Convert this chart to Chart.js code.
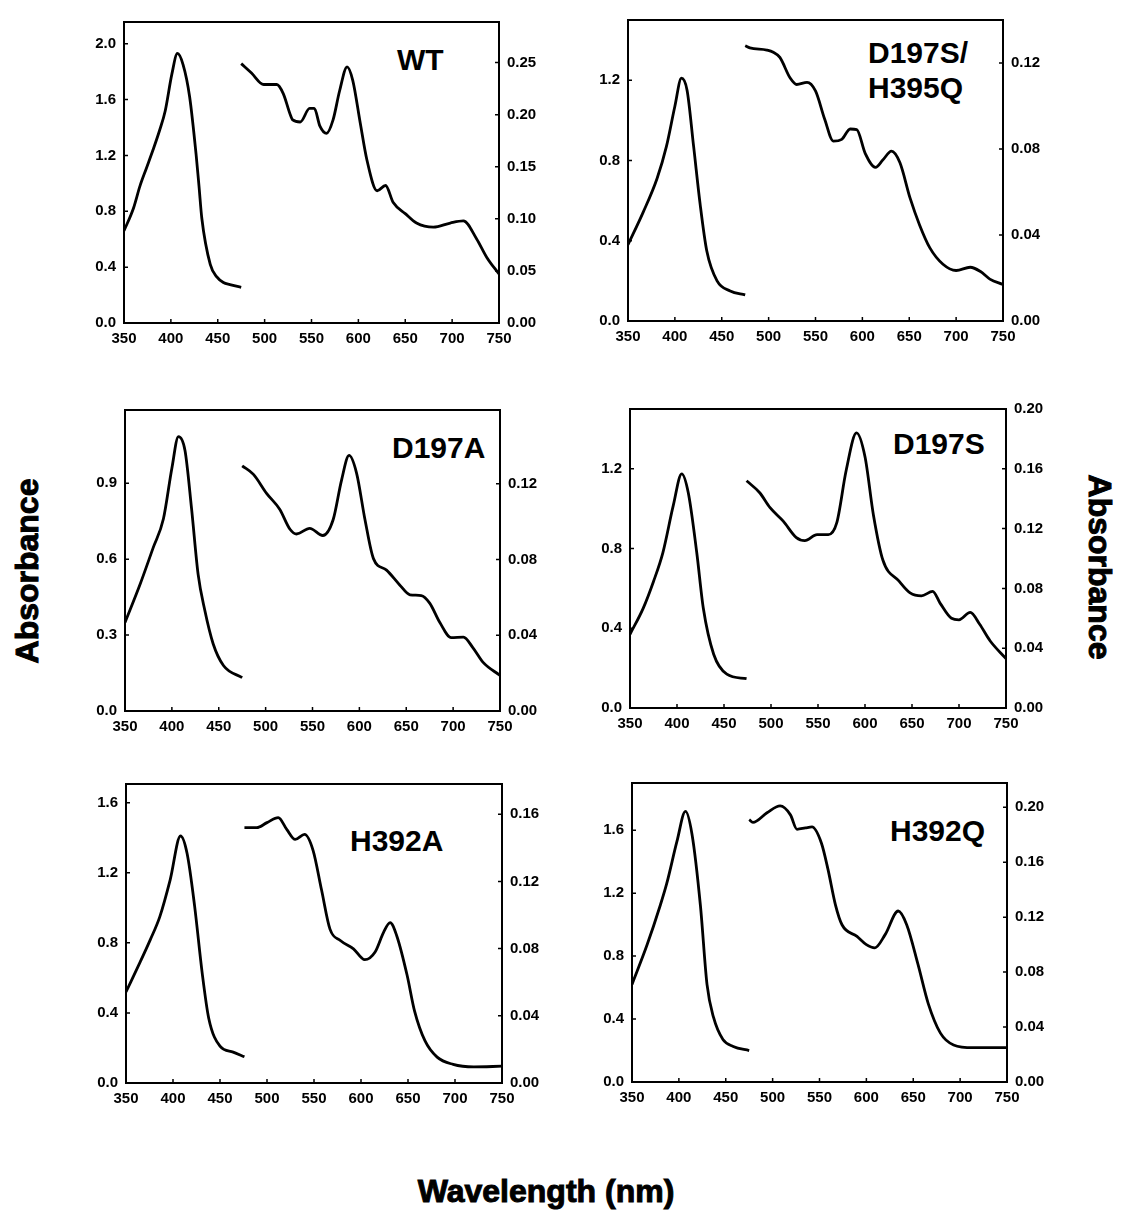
<!DOCTYPE html>
<html>
<head>
<meta charset="utf-8">
<script src="https://cdn.jsdelivr.net/npm/chart.js@4.4.1/dist/chart.umd.min.js"></script>
<style>
  body { margin: 0; background: #fff; }
  #page { position: relative; width: 1125px; height: 1223px; background: #fff; overflow: hidden; }
  canvas { position: absolute; }
  .lbl { position: absolute; font-family: "Liberation Sans", Arial, sans-serif; font-weight: bold;
         font-size: 30px; line-height: 1; color: #000; white-space: nowrap; }
  .title { position: absolute; font-family: "Liberation Sans", Arial, sans-serif; font-weight: bold;
           font-size: 32px; line-height: 1; color: #000; white-space: nowrap; -webkit-text-stroke: 1px #000; }
</style>
</head>
<body>
<div id="page">
  <div class="lbl" style="left:397px; top:45px;">WT</div>
  <div class="lbl" style="left:868px; top:38px;">D197S/</div>
  <div class="lbl" style="left:868px; top:73px;">H395Q</div>
  <div class="lbl" style="left:392px; top:433px;">D197A</div>
  <div class="lbl" style="left:893px; top:429px;">D197S</div>
  <div class="lbl" style="left:350px; top:826px;">H392A</div>
  <div class="lbl" style="left:890px; top:816px;">H392Q</div>
  <div class="title" style="left:27px; top:571px; transform: translate(-50%,-50%) rotate(-90deg);">Absorbance</div>
  <div class="title" style="left:1100px; top:567px; transform: translate(-50%,-50%) rotate(90deg);">Absorbance</div>
  <div class="title" style="left:546px; top:1191px; transform: translate(-50%,-50%);">Wavelength (nm)</div>
</div>
<script>
// Soret region (left axis) and visible region (right axis) for each mutant
var wtSoretNm  = [350, 360, 367, 374, 381, 388, 394, 401, 407, 413, 420, 427, 430, 433, 442, 449, 456, 463, 475];
var wtSoretAbs = [0.66, 0.82, 0.98, 1.11, 1.24, 1.38, 1.52, 1.78, 1.93, 1.85, 1.62, 1.20, 0.98, 0.75, 0.42, 0.33, 0.29, 0.275, 0.255];
var wtVisNm    = [475, 486, 499, 513, 520, 527, 530, 538, 548, 553, 559, 566, 573, 580, 588, 594, 602, 609, 620, 629, 637, 650, 662, 680, 698, 712, 726, 737, 750];
var wtVisAbs   = [0.249, 0.240, 0.229, 0.229, 0.220, 0.201, 0.195, 0.193, 0.206, 0.206, 0.189, 0.182, 0.195, 0.223, 0.246, 0.233, 0.192, 0.157, 0.127, 0.132, 0.116, 0.105, 0.096, 0.092, 0.096, 0.098, 0.081, 0.063, 0.047];

var dqSoretNm  = [350, 366, 381, 391, 400, 407, 413, 420, 427, 434, 445, 459, 475];
var dqSoretAbs = [0.38, 0.54, 0.71, 0.87, 1.07, 1.21, 1.15, 0.87, 0.58, 0.35, 0.20, 0.15, 0.13];
var dqVisNm    = [475, 480, 498, 505, 512, 523, 530, 541, 550, 560, 569, 578, 587, 594, 603, 614, 622, 631, 640, 651, 661, 672, 686, 700, 715, 726, 736, 750];
var dqVisAbs   = [0.128, 0.127, 0.126, 0.125, 0.1226, 0.113, 0.110, 0.111, 0.107, 0.0936, 0.0837, 0.0845, 0.0893, 0.089, 0.078, 0.0715, 0.075, 0.079, 0.0737, 0.057, 0.0447, 0.034, 0.0264, 0.0235, 0.025, 0.023, 0.0195, 0.017];

var daSoretNm  = [350, 366, 380, 391, 400, 407, 414, 421, 428, 435, 444, 455, 475];
var daSoretAbs = [0.35, 0.50, 0.645, 0.76, 0.96, 1.085, 1.03, 0.80, 0.54, 0.40, 0.266, 0.18, 0.132];
var daVisNm    = [475, 487, 501, 515, 526, 533, 547, 561, 572, 581, 589, 597, 606, 615, 629, 643, 654, 666, 675, 686, 698, 711, 721, 732, 750];
var daVisAbs   = [0.1295, 0.125, 0.115, 0.1066, 0.096, 0.0935, 0.0965, 0.0927, 0.101, 0.122, 0.135, 0.1257, 0.101, 0.0805, 0.0744, 0.0666, 0.0614, 0.061, 0.057, 0.0466, 0.0388, 0.039, 0.0335, 0.0257, 0.0188];

var dsSoretNm  = [350, 364, 375, 385, 396, 405, 412, 421, 428, 439, 453, 474];
var dsSoretAbs = [0.37, 0.50, 0.635, 0.78, 1.015, 1.175, 1.08, 0.78, 0.50, 0.27, 0.17, 0.147];
var dsVisNm    = [474, 488, 499, 513, 527, 536, 549, 561, 570, 580, 591, 600, 609, 619, 636, 648, 660, 672, 680, 692, 700, 712, 722, 733, 750];
var dsVisAbs   = [0.152, 0.144, 0.134, 0.125, 0.114, 0.112, 0.116, 0.116, 0.124, 0.159, 0.184, 0.168, 0.129, 0.099, 0.085, 0.077, 0.075, 0.078, 0.070, 0.060, 0.059, 0.064, 0.056, 0.045, 0.033];

var haSoretNm  = [350, 365, 376, 386, 397, 408, 415, 423, 431, 438, 450, 464, 476];
var haSoretAbs = [0.52, 0.69, 0.82, 0.95, 1.16, 1.41, 1.31, 1.01, 0.63, 0.37, 0.21, 0.176, 0.15];
var haVisNm    = [476, 489, 500, 512, 521, 530, 540, 549, 558, 567, 578, 592, 604, 615, 624, 631, 638, 649, 657, 668, 681, 698, 720, 750];
var haVisAbs   = [0.152, 0.152, 0.155, 0.158, 0.151, 0.145, 0.148, 0.1385, 0.115, 0.0916, 0.0848, 0.0799, 0.0734, 0.078, 0.0897, 0.0955, 0.0877, 0.0643, 0.0428, 0.0252, 0.0154, 0.0111, 0.0096, 0.010];

var hqSoretNm  = [350, 366, 380, 387, 398, 407, 414, 423, 430, 437, 447, 458, 475];
var hqSoretAbs = [0.62, 0.87, 1.12, 1.26, 1.53, 1.72, 1.575, 1.12, 0.62, 0.41, 0.27, 0.226, 0.20];
var hqVisNm    = [475, 479, 494, 508, 519, 526, 535, 542, 552, 559, 567, 574, 590, 600, 609, 620, 634, 643, 655, 666, 679, 693, 714, 750];
var hqVisAbs   = [0.191, 0.189, 0.196, 0.201, 0.1945, 0.184, 0.185, 0.1857, 0.174, 0.155, 0.129, 0.1145, 0.106, 0.100, 0.0977, 0.1073, 0.1245, 0.1145, 0.0858, 0.0571, 0.0356, 0.027, 0.025, 0.025];

var xTicks = [350, 400, 450, 500, 550, 600, 650, 700, 750];

// plot-area rectangles [left, top, right, bottom] and axis ranges per panel
var panels = [
    { soret: [wtSoretNm, wtSoretAbs], vis: [wtVisNm, wtVisAbs], area: [124, 17, 499, 323],
      left: { max: 2.155, step: 0.4, dec: 1 }, right: { max: 0.289, step: 0.05, dec: 2 } },
    { soret: [dqSoretNm, dqSoretAbs], vis: [dqVisNm, dqVisAbs], area: [628, 15, 1003, 321],
      left: { max: 1.5, step: 0.4, dec: 1 }, right: { max: 0.140, step: 0.04, dec: 2 } },
    { soret: [daSoretNm, daSoretAbs], vis: [daVisNm, daVisAbs], area: [125, 405, 500, 711],
      left: { max: 1.19, step: 0.3, dec: 1 }, right: { max: 0.159, step: 0.04, dec: 2 } },
    { soret: [dsSoretNm, dsSoretAbs], vis: [dsVisNm, dsVisAbs], area: [630, 404, 1006, 708],
      left: { max: 1.5, step: 0.4, dec: 1 }, right: { max: 0.2, step: 0.04, dec: 2 } },
    { soret: [haSoretNm, haSoretAbs], vis: [haVisNm, haVisAbs], area: [126, 779, 502, 1083],
      left: { max: 1.707, step: 0.4, dec: 1 }, right: { max: 0.178, step: 0.04, dec: 2 } },
    { soret: [hqSoretNm, hqSoretAbs], vis: [hqVisNm, hqVisAbs], area: [632, 778, 1007, 1082],
      left: { max: 1.9, step: 0.4, dec: 1 }, right: { max: 0.2177, step: 0.04, dec: 2 } }
];

var PAD_SIDE = 60, PAD_TOP = 12, PAD_BOTTOM = 32;
var tickFont = { family: '"Liberation Sans", Arial, sans-serif', size: 15, weight: 'bold' };

// box around the plot + small inward tick marks
var framePlugin = {
    id: 'frame',
    afterDraw: function (chart) {
        var a = chart.chartArea, ctx = chart.ctx;
        ctx.save();
        ctx.strokeStyle = '#000';
        ctx.lineWidth = 2;
        ctx.strokeRect(a.left, a.top, a.right - a.left, a.bottom - a.top);
        ctx.lineWidth = 1.5;
        ctx.beginPath();
        chart.scales.x.ticks.forEach(function (t) {
            var px = chart.scales.x.getPixelForValue(t.value);
            ctx.moveTo(px, a.bottom); ctx.lineTo(px, a.bottom - 4);
        });
        chart.scales.y.ticks.forEach(function (t) {
            var py = chart.scales.y.getPixelForValue(t.value);
            ctx.moveTo(a.left, py); ctx.lineTo(a.left + 4, py);
        });
        chart.scales.y2.ticks.forEach(function (t) {
            var py = chart.scales.y2.getPixelForValue(t.value);
            ctx.moveTo(a.right, py); ctx.lineTo(a.right - 4, py);
        });
        ctx.stroke();
        ctx.restore();
    }
};

var toPoints = function (pair) {
    return pair[0].map(function (nm, i) { return { x: nm, y: pair[1][i] }; });
};

var yScale = function (pos, cfg) {
    return {
        type: 'linear', position: pos, min: 0, max: cfg.max,
        grid: { display: false, drawTicks: false },
        border: { display: false },
        ticks: {
            stepSize: cfg.step, includeBounds: false, padding: 8,
            color: '#000', font: tickFont,
            callback: function (v) { return v.toFixed(cfg.dec); }
        },
        afterFit: function (s) { s.width = PAD_SIDE; }
    };
};

var page = document.getElementById('page');

panels.forEach(function (p) {
    var a = p.area;
    var cv = document.createElement('canvas');
    var w = (a[2] - a[0]) + 2 * PAD_SIDE;
    var h = (a[3] - a[1]) + PAD_TOP + PAD_BOTTOM;
    cv.width = w; cv.height = h;
    cv.style.width = w + 'px'; cv.style.height = h + 'px';
    cv.style.left = (a[0] - PAD_SIDE) + 'px';
    cv.style.top = (a[1] - PAD_TOP) + 'px';
    page.appendChild(cv);

    new Chart(cv, {
        type: 'line',
        data: {
            datasets: [
                { data: toPoints(p.soret), yAxisID: 'y' },
                { data: toPoints(p.vis), yAxisID: 'y2' }
            ]
        },
        options: {
            responsive: false,
            devicePixelRatio: 1,
            animation: false,
            layout: { padding: { top: PAD_TOP, left: 0, right: 0, bottom: 0 } },
            elements: {
                line: { borderColor: '#000', borderWidth: 2.8, cubicInterpolationMode: 'monotone', fill: false },
                point: { radius: 0 }
            },
            plugins: { legend: { display: false }, tooltip: { enabled: false } },
            scales: {
                x: {
                    type: 'linear', min: xTicks[0], max: xTicks[xTicks.length - 1],
                    grid: { display: false, drawTicks: false },
                    border: { display: false },
                    ticks: { stepSize: 50, padding: 7, color: '#000', font: tickFont, maxRotation: 0 },
                    afterFit: function (s) { s.height = PAD_BOTTOM; }
                },
                y: yScale('left', p.left),
                y2: yScale('right', p.right)
            }
        },
        plugins: [framePlugin]
    });
});
</script>
</body>
</html>
